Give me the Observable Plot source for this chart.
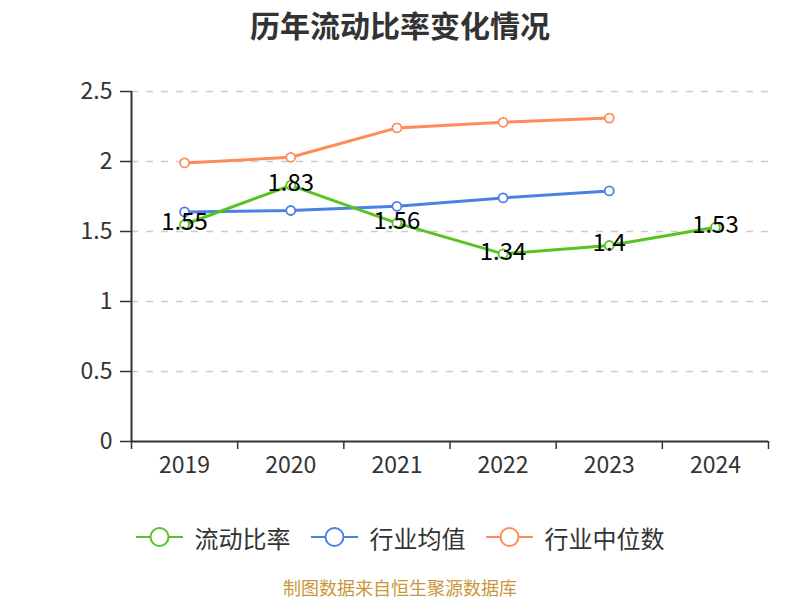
<!DOCTYPE html>
<html><head><meta charset="utf-8">
<script src="https://cdn.jsdelivr.net/npm/d3@7"></script>
<script src="https://cdn.jsdelivr.net/npm/@observablehq/plot@0.6"></script>
<style>
body{margin:0;background:#fff;font-family:"Noto Sans CJK SC","Noto Sans",sans-serif;}
#title{height:50px;line-height:48px;text-align:center;font-size:30px;font-weight:bold;color:#333;}
#legend{height:54px;display:flex;justify-content:center;align-items:center;color:#333;font-size:24px;}
.item{display:flex;align-items:center;margin:0 10px;}
.item svg{margin-right:12px;}
#caption{height:30px;line-height:30px;text-align:center;font-size:18px;color:#c9973a;margin-top:8px;}
</style></head>
<body>
<div id="title">历年流动比率变化情况</div>
<div id="chart"></div>
<div id="legend"></div>
<div id="caption">制图数据来自恒生聚源数据库</div>
<script>
const years = [2019, 2020, 2021, 2022, 2023, 2024];
const ratio = [1.55, 1.83, 1.56, 1.34, 1.4, 1.53];
const industryAvg = [1.64, 1.65, 1.68, 1.74, 1.79];
const industryMedian = [1.99, 2.03, 2.24, 2.28, 2.31];
const seriesNames = ["流动比率", "行业均值", "行业中位数"];
const colors = ["#58c322", "#4d80e3", "#ff8c57"];
const yTicks = [0, 0.5, 1, 1.5, 2, 2.5];
const boundaries = [2018.5, 2019.5, 2020.5, 2021.5, 2022.5, 2023.5, 2024.5];

const rows = (vals, s) => vals.map((v, i) => ({year: years[i], value: v, series: s}));
const dRatio = rows(ratio, seriesNames[0]);
const dAvg = rows(industryAvg, seriesNames[1]);
const dMed = rows(industryMedian, seriesNames[2]);

const font = '"Noto Sans CJK SC","Noto Sans",sans-serif';
const chart = Plot.plot({
  width: 800, height: 460,
  marginLeft: 131, marginRight: 32, marginTop: 41, marginBottom: 69,
  style: {fontFamily: font, background: "transparent", overflow: "visible"},
  x: {type: "linear", domain: [2018.5, 2024.5]},
  y: {domain: [0, 2.5]},
  marks: [
    Plot.gridY(yTicks.filter(d => d > 0), {stroke: "#ccc", strokeOpacity: 1, strokeDasharray: "7,8", strokeWidth: 1.5}),
    Plot.axisY({ticks: yTicks, tickSize: 11, tickPadding: 8, fontSize: 23, stroke: "#333", fill: "#333", strokeWidth: 1.5, label: null, tickFormat: d => String(d)}),
    Plot.axisX({ticks: boundaries, tickSize: 8, stroke: "#333", strokeWidth: 1.5, tickFormat: () => "", label: null}),
    Plot.axisX({ticks: years, tickSize: 0, tickPadding: 15, fontSize: 23, fill: "#333", tickFormat: d => String(d), label: null}),
    Plot.ruleX([2018.5], {y1: 0, y2: 2.5, stroke: "#333", strokeWidth: 2}),
    Plot.ruleY([0], {stroke: "#333", strokeWidth: 2}),
    Plot.line(dMed, {x: "year", y: "value", stroke: colors[2], strokeWidth: 3}),
    Plot.line(dAvg, {x: "year", y: "value", stroke: colors[1], strokeWidth: 3}),
    Plot.line(dRatio, {x: "year", y: "value", stroke: colors[0], strokeWidth: 3}),
    Plot.dot(dMed, {x: "year", y: "value", r: 4.5, fill: "#fff", stroke: colors[2], strokeWidth: 1.8}),
    Plot.dot(dAvg, {x: "year", y: "value", r: 4.5, fill: "#fff", stroke: colors[1], strokeWidth: 1.8}),
    Plot.dot(dRatio, {x: "year", y: "value", r: 4.5, fill: "#fff", stroke: colors[0], strokeWidth: 1.8}),
    Plot.text(dRatio, {x: "year", y: "value", text: d => String(d.value), fontSize: 24, fill: "#000", lineAnchor: "middle", dy: -2})
  ]
});
document.getElementById("chart").appendChild(chart);

const legend = document.getElementById("legend");
seriesNames.forEach((name, i) => {
  const item = document.createElement("div");
  item.className = "item";
  item.innerHTML = `<svg width="47" height="22"><line x1="0" y1="11" x2="47" y2="11" stroke="${colors[i]}" stroke-width="2"/><circle cx="23.5" cy="11" r="9" fill="#fff" stroke="${colors[i]}" stroke-width="2"/></svg><span>${name}</span>`;
  legend.appendChild(item);
});
</script>
</body></html>
